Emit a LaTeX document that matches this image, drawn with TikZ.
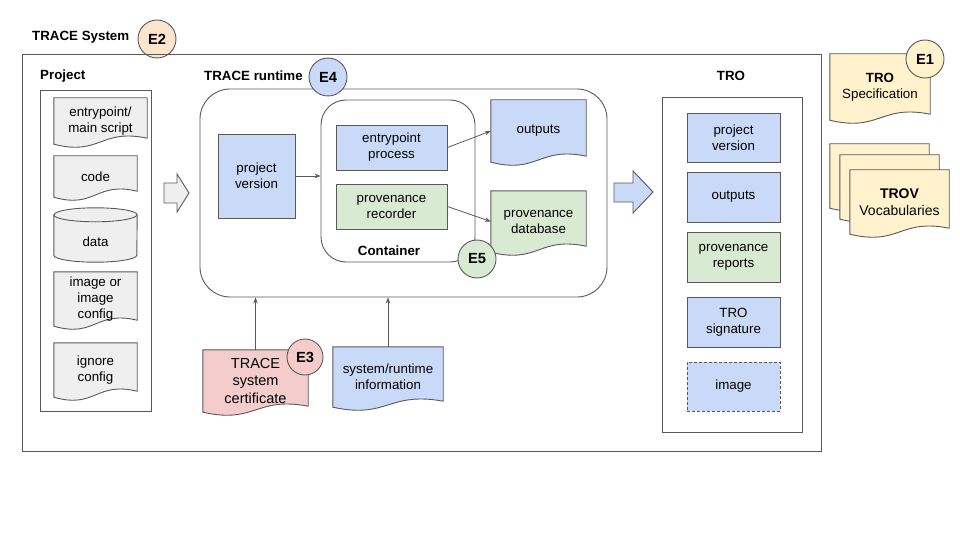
\documentclass[tikz,border=0pt]{standalone}
\usepackage{fontspec}
\setmainfont{Liberation Sans}
\usetikzlibrary{arrows.meta,backgrounds}
\definecolor{linegray}{HTML}{595959}
\definecolor{bluefill}{HTML}{C9DAF8}
\definecolor{greenfill}{HTML}{D9EAD3}
\definecolor{pinkfill}{HTML}{F4CCCC}
\definecolor{yellowfill}{HTML}{FFF2CC}
\definecolor{orangefill}{HTML}{FCE5CD}
\definecolor{grayfill}{HTML}{EFEFEF}
\tikzset{
  every node/.style={font=\fontsize{13.33}{16}\selectfont, align=center, inner sep=0pt},
  box/.style={draw=linegray, line width=0.9pt},
  wh/.style 2 args={minimum width=#1pt, minimum height=#2pt},
  tag/.style={circle, box, minimum size=38pt, font=\fontsize{14.7}{17}\selectfont\bfseries},
  title/.style={font=\fontsize{13.33}{16}\selectfont\bfseries},
}
\newcommand\docoutline[2]{%
  \begin{scope}[on background layer]
    \draw[box, fill=#2] (#1.south west) -- (#1.north west) -- (#1.north east)
      -- ([yshift=6pt]#1.south east)
      .. controls ([yshift=16pt]#1.south) and ([yshift=-12pt]#1.south) .. (#1.south west) -- cycle;
  \end{scope}}
\begin{document}
\begin{tikzpicture}[x=1pt, y=-1pt]
  \useasboundingbox (0,0) rectangle (960,540);
  \node[title, anchor=west] (systitle) at (32,37) {TRACE System};
  \node[tag, fill=orangefill] (e2) at (157,39) {E2};
  \node[box, wh={799}{397}] (system) at (421.5,252.5) {};

  \node[title, anchor=west] (projtitle) at (40,76) {Project};
  \node[box, wh={111}{321}] (project) at (95.5,250.5) {};
  \node[wh={93}{46}] (entry) at (100.5,121) {entrypoint/\\main script};
  \docoutline{entry}{grayfill}
  \node[wh={83}{41}] (code) at (95.5,176.5) {code};
  \docoutline{code}{grayfill}
  \node[wh={83}{40}] (data) at (95.5,242) {data};
  \begin{scope}[on background layer]
    \draw[box, fill=grayfill] ([yshift=7pt]data.north west) -- ([yshift=7pt]data.south west)
      arc[start angle=180, end angle=360, x radius=41.5pt, y radius=7pt]
      -- ([yshift=7pt]data.north east)
      arc[start angle=0, end angle=180, x radius=41.5pt, y radius=7pt] -- cycle;
    \draw[box] ([yshift=7pt]data.north west)
      arc[start angle=180, end angle=360, x radius=41.5pt, y radius=7pt];
  \end{scope}
  \node[wh={83}{54}] (image) at (95.5,299) {image or\\image\\config};
  \docoutline{image}{grayfill}
  \node[wh={83}{54}] (ignore) at (95.5,370) {ignore\\config};
  \docoutline{ignore}{grayfill}

  \draw[box, fill=grayfill] (164,183) -- (177,183) -- (177,174) -- (189,193)
    -- (177,212) -- (177,203) -- (164,203) -- cycle;

  \node[title, anchor=west] (rttitle) at (204,76) {TRACE runtime};
  \node[box, rounded corners=30pt, wh={407}{208}] (runtime) at (403.5,193) {};
  \node[tag, fill=bluefill] (e4) at (328,77) {E4};
  \node[box, fill=bluefill, wh={77}{84}] (pv) at (256.5,176) {project\\version};
  \node[box, rounded corners=25pt, wh={154}{162}] (container) at (398,181) {};
  \node[title] (conttitle) at (389,251) {Container};
  \node[box, fill=bluefill, wh={111}{45}] (ep) at (391.5,147.5) {entrypoint\\process};
  \node[box, fill=greenfill, wh={111}{45}] (pr) at (391.5,206.5) {provenance\\recorder};
  \node[wh={95}{62}] (outputs) at (538.5,131) {outputs};
  \docoutline{outputs}{bluefill}
  \node[wh={95}{61}] (provdb) at (538.5,221.5) {provenance\\database};
  \docoutline{provdb}{greenfill}
  \node[tag, fill=greenfill] (e5) at (477,259) {E5};

  \node[wh={105}{62}, font=\fontsize{14.5}{17.5}\selectfont] (cert) at (255.5,381) {TRACE\\system\\certificate};
  \docoutline{cert}{pinkfill}
  \node[tag, fill=pinkfill, minimum size=36pt] (e3) at (305,357) {E3};
  \node[wh={110}{60}] (sysinfo) at (388,377) {system/runtime\\information};
  \docoutline{sysinfo}{bluefill}

  \draw[box, fill=bluefill] (614,183) -- (633,183) -- (633,171) -- (653,192)
    -- (633,213) -- (633,202) -- (614,202) -- cycle;

  \node[title] (trotitle) at (731,76) {TRO};
  \node[box, wh={140}{335}] (tro) at (732,264.5) {};
  \node[box, fill=bluefill, wh={93}{49}] (tropv) at (733.5,137.5) {project\\version};
  \node[box, fill=bluefill, wh={93}{50}] (troout) at (733.5,197) {outputs};
  \node[box, fill=greenfill, wh={93}{50}] (troprov) at (733.5,257) {provenance\\reports};
  \node[box, fill=bluefill, wh={93}{50}] (trosig) at (733.5,322) {TRO\\signature};
  \node[box, fill=bluefill, dashed, dash pattern=on 3pt off 2pt, wh={93}{49}] (troimg) at (733.5,386.5) {image};

  \node[wh={100}{66}] (spec) at (880,87) {\textbf{TRO}\\Specification};
  \docoutline{spec}{yellowfill}
  \node[tag, fill=yellowfill] (e1) at (925,59) {E1};
  \node[wh={99}{64}] (trov1) at (879.5,176) {};
  \docoutline{trov1}{yellowfill}
  \node[wh={99}{64}] (trov2) at (889.5,187) {};
  \docoutline{trov2}{yellowfill}
  \node[wh={99}{64}, font=\fontsize{14}{17}\selectfont] (trov3) at (899.5,202) {\textbf{TROV}\\Vocabularies};
  \docoutline{trov3}{yellowfill}

  \begin{scope}[draw=linegray, line width=0.8pt, -{Stealth[length=6pt,width=4.5pt]}]
    \draw (pv.east) -- (pv.east -| container.west);
    \draw (ep.east) -- (outputs.west);
    \draw (pr.east) -- (provdb.west);
    \draw (cert.north) -- (cert.north |- runtime.south);
    \draw (sysinfo.north) -- (sysinfo.north |- runtime.south);
  \end{scope}
\end{tikzpicture}
\end{document}
